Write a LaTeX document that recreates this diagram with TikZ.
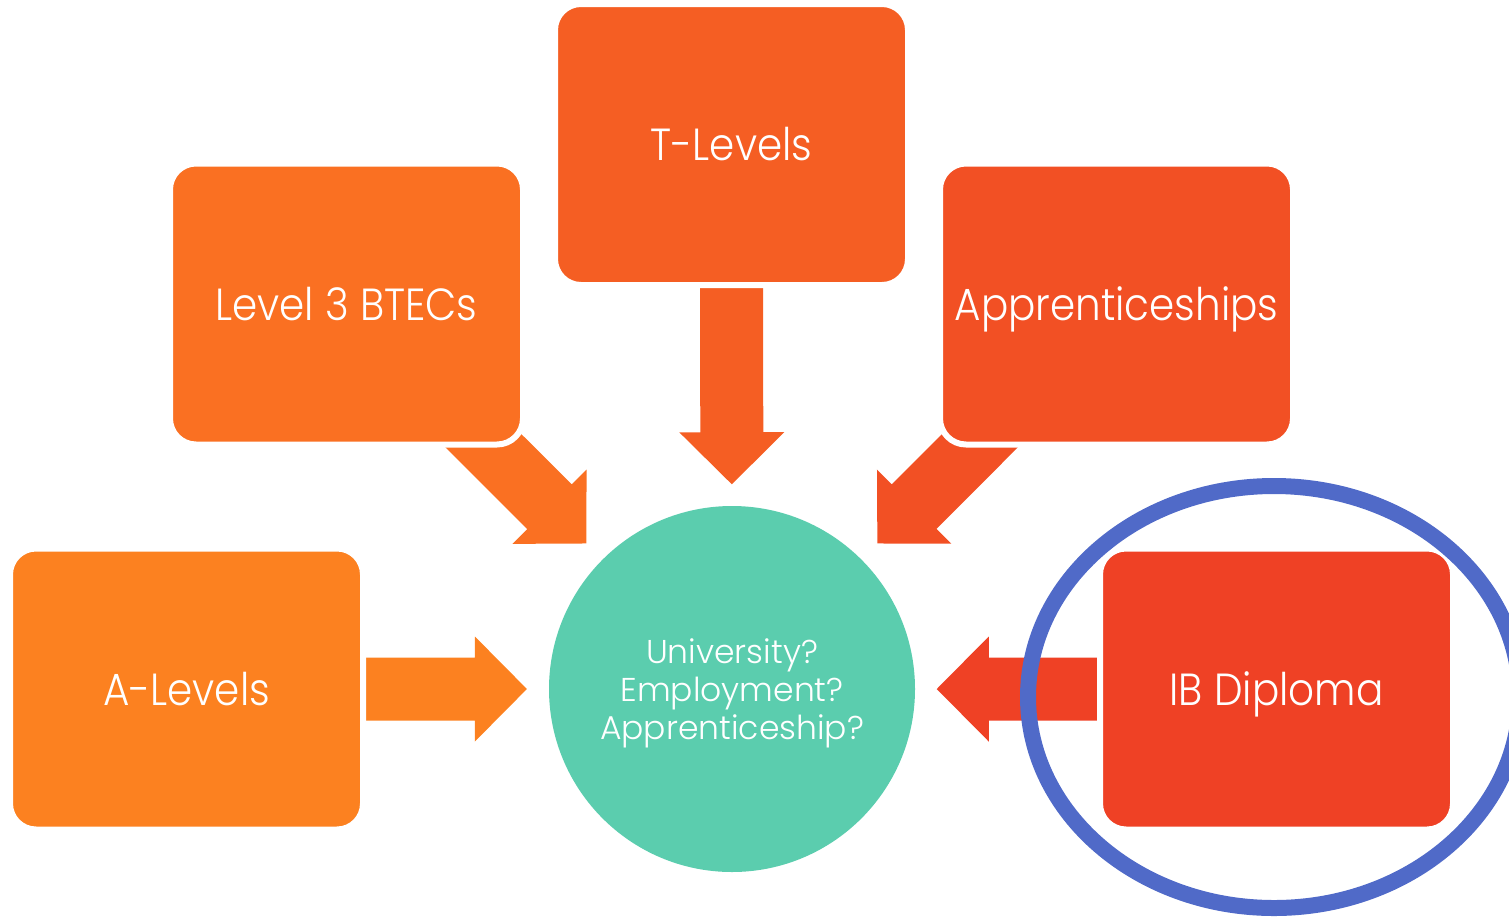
\documentclass[tikz,border=0pt]{standalone}
\usepackage{fontspec}
\setmainfont{Poppins Light}
\newfontfamily\boxfont{Poppins Light}[FakeStretch=0.9]
\usetikzlibrary{calc}
\definecolor{colT}{HTML}{F55E23}
\definecolor{colB}{HTML}{FA7022}
\definecolor{colP}{HTML}{F25024}
\definecolor{colA}{HTML}{FC8120}
\definecolor{colI}{HTML}{EF4125}
\definecolor{colHub}{HTML}{5BCDAE}
\definecolor{colRing}{HTML}{506AC8}
\newcommand\blockarrow[3]{%
  \fill[#1] let \p1=#2, \p2=#3,
    \n1={atan2(\y2-\y1,\x2-\x1)}, \n2={veclen(\x2-\x1,\y2-\y1)} in
    ($(\p1)+({\n1+90}:31.5)$) --
    ($(\p1)+({\n1}:{\n2-52})+({\n1+90}:31.5)$) --
    ($(\p1)+({\n1}:{\n2-52})+({\n1+90}:52.5)$) --
    (\p2) --
    ($(\p1)+({\n1}:{\n2-52})+({\n1-90}:52.5)$) --
    ($(\p1)+({\n1}:{\n2-52})+({\n1-90}:31.5)$) --
    ($(\p1)+({\n1-90}:31.5)$) -- cycle;}
\begin{document}
\begin{tikzpicture}[x=1pt,y=1pt,
  box/.style={rectangle,rounded corners=26,draw=white,line width=6,
    minimum width=353,minimum height=281,inner sep=0,text=white,
    text height=32,text depth=0,
    font=\boxfont\fontsize{45}{54}\selectfont},
  hub/.style={circle,minimum size=366,inner sep=0,fill=colHub},
  hubtext/.style={text=white,align=center,inner sep=0,
    font=\fontsize{33}{38}\selectfont}]
\useasboundingbox (0,0) rectangle (1509,-916);
\node[hub] (circ) at (732,-689) {};
\node[hubtext] (circtext) at ($(circ.center)+(0,-4)$) {University?\\Employment?\\Apprenticeship?};
\coordinate (pT) at (731.5,-144.5);
\coordinate (pB) at (346.5,-304);
\coordinate (pP) at (1116.5,-304);
\coordinate (pA) at (186.5,-689);
\coordinate (pI) at (1276.5,-689);
\blockarrow{colT}{(pT)}{($(pT)!0.624!(circ.center)$)}
\blockarrow{colB}{(pB)}{($(pB)!0.622!(circ.center)$)}
\blockarrow{colP}{(pP)}{($(pP)!0.622!(circ.center)$)}
\blockarrow{colA}{(pA)}{($(pA)!0.624!(circ.center)$)}
\blockarrow{colI}{(pI)}{($(pI)!0.624!(circ.center)$)}
\node[box,fill=colT] (tl) at (pT) {T-Levels};
\node[box,fill=colB] (bt) at (pB) {Level 3 BTECs};
\node[box,fill=colP] (ap) at (pP) {Apprenticeships};
\node[box,fill=colA] (al) at (pA) {A-Levels};
\node[box,fill=colI] (ib) at (pI) {IB Diploma};
\draw[colRing,line width=16] (1274,-697) ellipse [x radius=246,y radius=211];
\end{tikzpicture}
\end{document}
